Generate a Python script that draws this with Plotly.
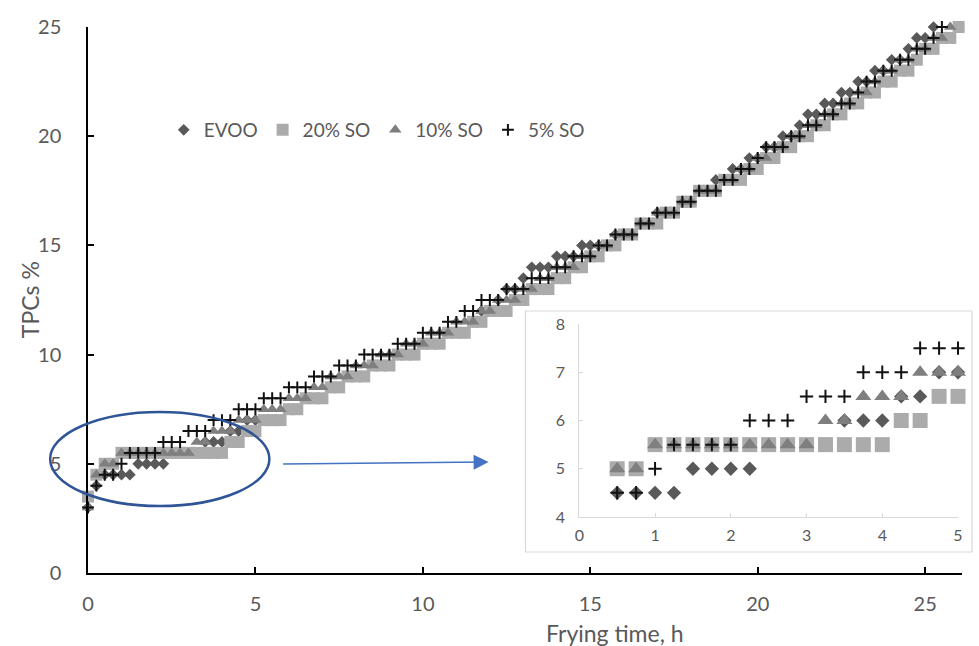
import plotly.graph_objects as go

# Frying time grid (h), one reading every 15 min
hours = [
    0.0, 0.25, 0.5, 0.75, 1.0, 1.25, 1.5, 1.75, 2.0, 2.25, 2.5, 2.75,
    3.0, 3.25, 3.5, 3.75, 4.0, 4.25, 4.5, 4.75, 5.0, 5.25, 5.5, 5.75,
    6.0, 6.25, 6.5, 6.75, 7.0, 7.25, 7.5, 7.75, 8.0, 8.25, 8.5, 8.75,
    9.0, 9.25, 9.5, 9.75, 10.0, 10.25, 10.5, 10.75, 11.0, 11.25, 11.5, 11.75,
    12.0, 12.25, 12.5, 12.75, 13.0, 13.25, 13.5, 13.75, 14.0, 14.25, 14.5, 14.75,
    15.0, 15.25, 15.5, 15.75, 16.0, 16.25, 16.5, 16.75, 17.0, 17.25, 17.5, 17.75,
    18.0, 18.25, 18.5, 18.75, 19.0, 19.25, 19.5, 19.75, 20.0, 20.25, 20.5, 20.75,
    21.0, 21.25, 21.5, 21.75, 22.0, 22.25, 22.5, 22.75, 23.0, 23.25, 23.5, 23.75,
    24.0, 24.25, 24.5, 24.75, 25.0, 25.25, 25.5, 25.75, 26.0,
]

# Total polar compounds (%) per oil, until the 25 % discard limit
tpc_evoo = [
    3, 4, 4.5, 4.5, 4.5, 4.5, 5, 5, 5, 5, 5.5, 5.5,
    5.5, 5.5, 6, 6, 6, 6.5, 6.5, 7, 7, 7, 7, 7,
    7.5, 7.5, 8, 8, 8, 8.5, 8.5, 9, 9, 9, 9.5, 9.5,
    9.5, 10, 10, 10, 10.5, 10.5, 10.5, 11, 11, 11, 11.5, 12,
    12, 12.5, 13, 13, 13.5, 14, 14, 14, 14.5, 14.5, 14.5, 15,
    15, 15, 15, 15.5, 15.5, 15.5, 16, 16, 16.5, 16.5, 16.5, 17,
    17, 17.5, 17.5, 18, 18, 18.5, 18.5, 19, 19, 19.5, 19.5, 20,
    20, 20.5, 21, 21, 21.5, 21.5, 22, 22, 22.5, 22.5, 23, 23,
    23.5, 23.5, 24, 24.5, 24.5, 25,
]
tpc_so20 = [
    3.5, 4.5, 5, 5, 5.5, 5.5, 5.5, 5.5, 5.5, 5.5, 5.5, 5.5,
    5.5, 5.5, 5.5, 5.5, 5.5, 6, 6, 6.5, 6.5, 7, 7, 7,
    7.5, 7.5, 8, 8, 8, 8.5, 8.5, 9, 9, 9, 9.5, 9.5,
    9.5, 10, 10, 10, 10.5, 10.5, 10.5, 11, 11, 11, 11.5, 11.5,
    12, 12, 12, 12.5, 12.5, 13, 13, 13, 13.5, 13.5, 14, 14,
    14.5, 14.5, 15, 15, 15.5, 15.5, 16, 16, 16, 16.5, 16.5, 17,
    17, 17.5, 17.5, 17.5, 18, 18, 18, 18.5, 18.5, 19, 19, 19.5,
    19.5, 20, 20, 20.5, 20.5, 21, 21, 21.5, 21.5, 22, 22, 22.5,
    22.5, 23, 23, 23.5, 24, 24, 24.5, 24.5, 25,
]
tpc_so10 = [
    3, 4.5, 5, 5, 5.5, 5.5, 5.5, 5.5, 5.5, 5.5, 5.5, 5.5,
    5.5, 6, 6, 6.5, 6.5, 6.5, 7, 7, 7, 7.5, 7.5, 7.5,
    8, 8, 8, 8.5, 8.5, 9, 9, 9, 9.5, 9.5, 9.5, 10,
    10, 10, 10.5, 10.5, 10.5, 11, 11, 11, 11.5, 11.5, 11.5, 12,
    12, 12.5, 12.5, 12.5, 13, 13, 13.5, 13.5, 14, 14, 14, 14.5,
    14.5, 15, 15, 15.5, 15.5, 15.5, 16, 16, 16.5, 16.5, 16.5, 17,
    17, 17.5, 17.5, 17.5, 18, 18, 18.5, 18.5, 19, 19, 19.5, 19.5,
    20, 20, 20.5, 20.5, 21, 21, 21.5, 21.5, 22, 22, 22.5, 23,
    23, 23.5, 23.5, 24, 24, 24.5, 24.5, 25,
]
tpc_so5 = [
    3, 4, 4.5, 4.5, 5, 5.5, 5.5, 5.5, 5.5, 6, 6, 6,
    6.5, 6.5, 6.5, 7, 7, 7, 7.5, 7.5, 7.5, 8, 8, 8,
    8.5, 8.5, 8.5, 9, 9, 9, 9.5, 9.5, 9.5, 10, 10, 10,
    10, 10.5, 10.5, 10.5, 11, 11, 11, 11.5, 11.5, 12, 12, 12.5,
    12.5, 12.5, 13, 13, 13, 13.5, 13.5, 13.5, 14, 14, 14.5, 14.5,
    14.5, 15, 15, 15.5, 15.5, 15.5, 16, 16, 16.5, 16.5, 16.5, 17,
    17, 17.5, 17.5, 17.5, 18, 18, 18.5, 18.5, 19, 19.5, 19.5, 19.5,
    20, 20, 20.5, 20.5, 21, 21, 21.5, 21.5, 22, 22.5, 22.5, 23,
    23, 23.5, 23.5, 24, 24, 24.5, 25,
]

series_names = ["EVOO", "20% SO", "10% SO", "5% SO"]
series_values = [tpc_evoo, tpc_so20, tpc_so10, tpc_so5]

main_x_ticks = [0, 5, 10, 15, 20, 25]
main_y_ticks = [0, 5, 10, 15, 20, 25]
inset_x_ticks = [0, 1, 2, 3, 4, 5]
inset_y_ticks = [4, 5, 6, 7, 8]
inset_window = (0.5, 5.0)  # hours shown magnified in the inset

FONT = "Lato"
TEXT_GREY = "#595959"

styles = [
    dict(symbol="diamond", color="#595959", size_main=9, size_inset=11, line=None),
    dict(symbol="square", color="#ababab", size_main=12, size_inset=15, line=None),
    dict(symbol="triangle-up", color="#7f7f7f", size_main=11, size_inset=14, line=None),
    dict(symbol="cross-thin", color="#111111", size_main=8.5, size_inset=9.5, line=2),
]


def marker_for(style, size):
    m = dict(symbol=style["symbol"], size=size, color=style["color"])
    if style["line"]:
        m["line"] = dict(color=style["color"], width=style["line"])
    else:
        m["line"] = dict(width=0)
    return m


fig = go.Figure()

# main chart
for name, vals, st in zip(series_names, series_values, styles):
    fig.add_trace(go.Scatter(
        x=hours[:len(vals)], y=vals, mode="markers", name=name,
        marker=marker_for(st, st["size_main"]), cliponaxis=False,
        xaxis="x", yaxis="y", showlegend=True,
    ))

# magnified first hours
for name, vals, st in zip(series_names, series_values, styles):
    xs, ys = [], []
    for h, v in zip(hours, vals):
        if inset_window[0] <= h <= inset_window[1]:
            xs.append(h)
            ys.append(v)
    fig.add_trace(go.Scatter(
        x=xs, y=ys, mode="markers", name=name,
        marker=marker_for(st, st["size_inset"]), cliponaxis=False,
        xaxis="x2", yaxis="y2", showlegend=False,
    ))

W, H = 979, 646
L, R, T, B = 88, 14, 27, 73
PW, PH = W - L - R, H - T - B


def px(X):
    return (X - L) / PW


def py(Y):
    return (H - B - Y) / PH


tick_font = dict(family=FONT, size=20, color=TEXT_GREY)
inset_font = dict(family=FONT, size=16, color=TEXT_GREY)
title_font = dict(family=FONT, size=23, color=TEXT_GREY)

fig.update_layout(
    width=W, height=H,
    margin=dict(l=L, r=R, t=T, b=B),
    paper_bgcolor="white", plot_bgcolor="white",
    font=dict(family=FONT, color=TEXT_GREY),
    xaxis=dict(
        range=[0, 26.1], tickvals=main_x_ticks, showgrid=False, zeroline=False,
        showline=True, linecolor="black", linewidth=1.5,
        ticks="inside", ticklen=6, tickcolor="black", tickwidth=1.5,
        tickfont=tick_font, ticklabelstandoff=12,
    ),
    yaxis=dict(
        range=[0, 25], tickvals=main_y_ticks, showgrid=False, zeroline=False,
        showline=True, linecolor="black", linewidth=1.5,
        ticks="inside", ticklen=6, tickcolor="black", tickwidth=1.5,
        tickfont=tick_font, ticklabelstandoff=21,
    ),
    xaxis2=dict(
        domain=[px(581), px(961)], anchor="y2", range=[0, 5], tickvals=inset_x_ticks,
        showgrid=False, zeroline=False, showline=True, linecolor="#d9d9d9", linewidth=1,
        ticks="inside", ticklen=4, tickcolor="#d9d9d9", tickfont=inset_font,
        ticklabelstandoff=4,
    ),
    yaxis2=dict(
        domain=[py(517), py(324)], anchor="x2", range=[4, 8], tickvals=inset_y_ticks,
        showgrid=False, zeroline=False, showline=True, linecolor="#d9d9d9", linewidth=1,
        ticks="inside", ticklen=4, tickcolor="#d9d9d9", tickfont=inset_font,
        ticklabelstandoff=10,
    ),
    legend=dict(
        orientation="h", x=px(164), y=py(130), xanchor="left", yanchor="middle",
        font=dict(family=FONT, size=19, color=TEXT_GREY),
        bgcolor="rgba(0,0,0,0)", itemwidth=30, tracegroupgap=0,
    ),
    shapes=[
        # inset frame
        dict(type="rect", xref="paper", yref="paper",
             x0=px(527), x1=px(975), y0=py(552), y1=py(311),
             line=dict(color="#d9d9d9", width=1.2), fillcolor="white", layer="below"),
        # highlight of the first frying hours
        dict(type="circle", xref="paper", yref="paper",
             x0=px(50), x1=px(270), y0=py(506), y1=py(412),
             line=dict(color="#2f5597", width=2.5)),
    ],
    annotations=[
        dict(text="TPCs %", xref="paper", yref="paper", x=px(30), y=py(300),
             xanchor="center", yanchor="middle",
             textangle=-90, showarrow=False, font=title_font),
        dict(text="Frying time, h", xref="paper", yref="paper", x=px(617), y=py(633),
             xanchor="center", yanchor="middle", showarrow=False, font=title_font),
        dict(text="", xref="paper", yref="paper", x=px(490), y=py(462),
             ax=283 - 490, ay=2, showarrow=True, arrowhead=2, arrowsize=2,
             arrowwidth=1.5, arrowcolor="#4472c4"),
    ],
)

fig.write_html("out.html")
